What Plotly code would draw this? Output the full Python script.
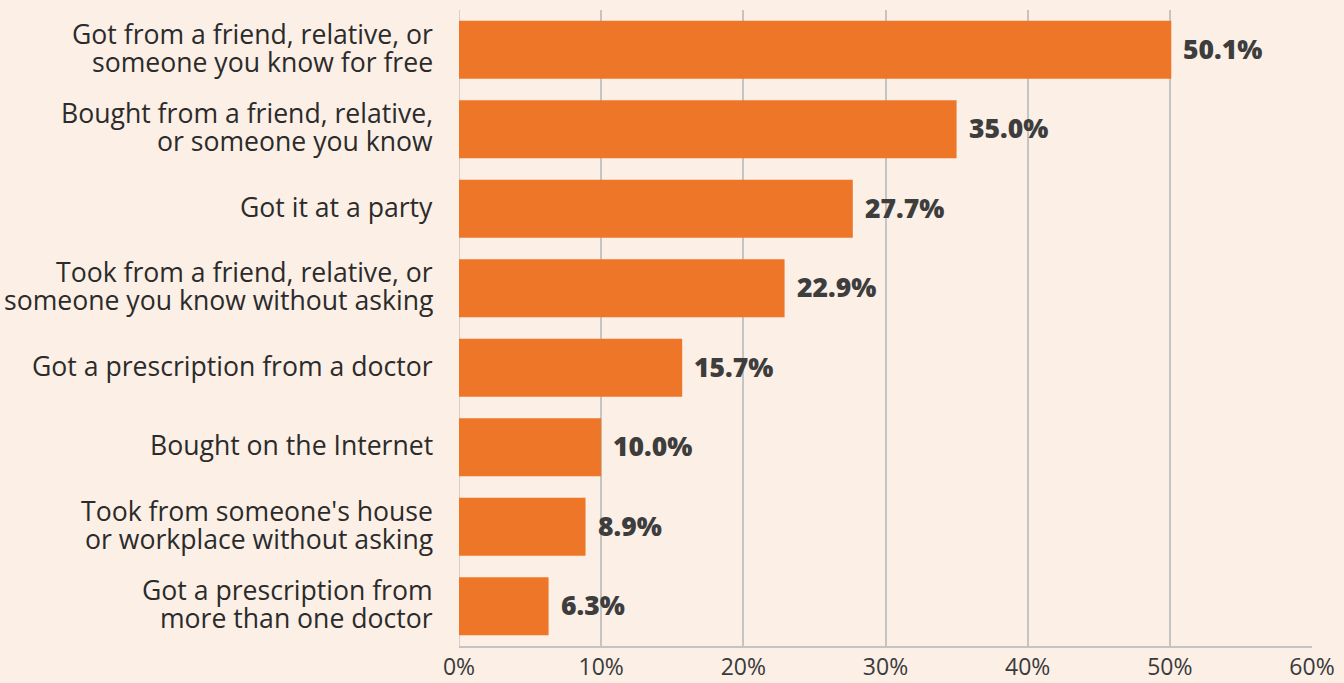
import plotly.graph_objects as go

categories = [
    "Got from a friend, relative, or<br>someone you know for free",
    "Bought from a friend, relative,<br>or someone you know",
    "Got it at a party",
    "Took from a friend, relative, or<br>someone you know without asking",
    "Got a prescription from a doctor",
    "Bought on the Internet",
    "Took from someone's house<br>or workplace without asking",
    "Got a prescription from<br>more than one doctor",
]
values = [50.1, 35.0, 27.7, 22.9, 15.7, 10.0, 8.9, 6.3]
tick_vals = [0, 10, 20, 30, 40, 50, 60]
tick_text = ["0%", "10%", "20%", "30%", "40%", "50%", "60%"]

BG = "#fcefe6"
BAR = "#ee7628"
GRID = "#c4c4c4"
TEXT = "#2b2b2b"
FONT = "Open Sans"
CAT_SIZE = 26.6
LINE_GAP = 28  # px between the two lines of a wrapped category label

fig = go.Figure(
    go.Bar(
        x=values,
        y=categories,
        orientation="h",
        marker=dict(color=BAR, line=dict(width=0)),
        hoverinfo="skip",
    )
)

# value labels to the right of each bar
for cat, v in zip(categories, values):
    fig.add_annotation(
        x=v, y=cat, text=f"{v:.1f}%", showarrow=False,
        xanchor="left", xshift=10, yshift=1,
        font=dict(family=FONT, size=26.5, color="#3d3d3d", weight=800),
    )

# category labels, drawn line by line for tight line spacing
for cat in categories:
    lines = cat.split("<br>")
    n = len(lines)
    for i, line in enumerate(lines):
        offset = (n - 1) / 2 * LINE_GAP - i * LINE_GAP + 2
        fig.add_annotation(
            xref="paper", x=0, y=cat, text=line, showarrow=False,
            xanchor="right", yanchor="middle", xshift=-24, yshift=offset,
            font=dict(family=FONT, size=CAT_SIZE, color=TEXT),
        )

fig.update_layout(
    width=1344, height=683,
    paper_bgcolor=BG, plot_bgcolor=BG,
    margin=dict(l=459, r=32, t=10, b=37),
    bargap=0.27,
    showlegend=False,
    font=dict(family=FONT, color=TEXT),
)
fig.update_xaxes(
    range=[0, 60], tickvals=tick_vals, ticktext=tick_text,
    showgrid=True, gridcolor=GRID, gridwidth=1.5,
    showline=True, linecolor=GRID, linewidth=1.5,
    zeroline=False, ticks="", ticklabelstandoff=0,
    tickfont=dict(family=FONT, size=23, color="#3a3a3a"),
    automargin=False, fixedrange=True,
)
fig.update_yaxes(
    autorange="reversed", showgrid=False, zeroline=False,
    ticks="", showticklabels=False,
    automargin=False, fixedrange=True,
)
# vertical baseline at 0%
fig.add_shape(type="line", xref="x", yref="paper", x0=0, x1=0, y0=0, y1=1,
              line=dict(color=GRID, width=1.5), layer="below")

fig.write_html("out.html", config={"displayModeBar": False})
